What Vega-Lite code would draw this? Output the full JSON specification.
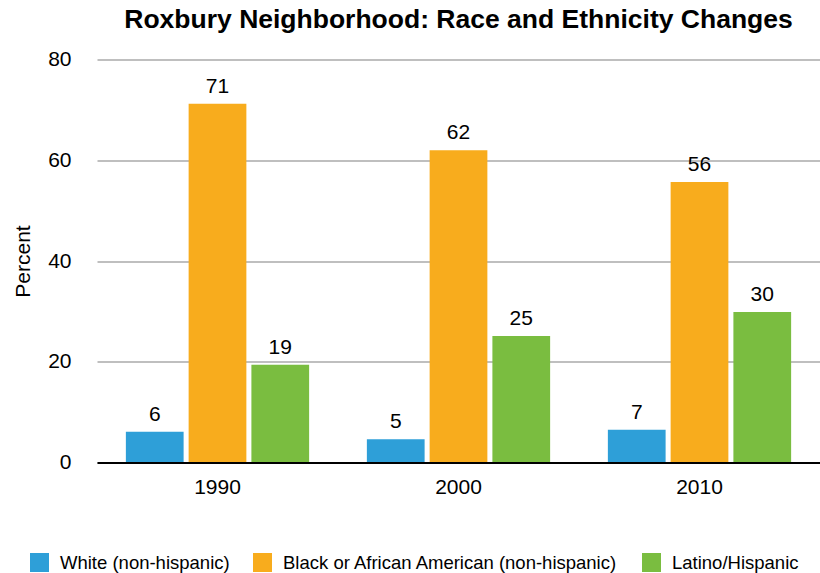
{
  "$schema": "https://vega.github.io/schema/vega-lite/v6.json",
  "width": 723,
  "height": 403,
  "autosize": {"type": "none"},
  "padding": {"left": 97, "top": 59.5, "right": 0, "bottom": 110},
  "background": "white",
  "title": {
    "text": "Roxbury Neighborhood: Race and Ethnicity Changes",
    "font": "Liberation Sans",
    "fontSize": 26.5,
    "fontWeight": "bold",
    "color": "#000000",
    "anchor": "middle",
    "offset": 15
  },
  "config": {
    "view": {"stroke": null},
    "font": "Liberation Sans"
  },
  "data": {
    "values": [
      {"year": "1990", "group": "White (non-hispanic)", "value": 6.1},
      {"year": "1990", "group": "Black or African American (non-hispanic)", "value": 71.2},
      {"year": "1990", "group": "Latino/Hispanic", "value": 19.4},
      {"year": "2000", "group": "White (non-hispanic)", "value": 4.6},
      {"year": "2000", "group": "Black or African American (non-hispanic)", "value": 62.0},
      {"year": "2000", "group": "Latino/Hispanic", "value": 25.1},
      {"year": "2010", "group": "White (non-hispanic)", "value": 6.5},
      {"year": "2010", "group": "Black or African American (non-hispanic)", "value": 55.7},
      {"year": "2010", "group": "Latino/Hispanic", "value": 29.9}
    ]
  },
  "encoding": {
    "x": {
      "field": "year",
      "type": "nominal",
      "scale": {"paddingInner": 0, "paddingOuter": 0},
      "axis": {
        "title": null,
        "labelAngle": 0,
        "labelFont": "Liberation Sans",
        "labelFontSize": 21,
        "labelColor": "#000000",
        "labelPadding": 14,
        "ticks": false,
        "domainColor": "#000000",
        "domainWidth": 2,
        "zindex": 1
      }
    },
    "xOffset": {
      "field": "group",
      "type": "nominal",
      "sort": ["White (non-hispanic)", "Black or African American (non-hispanic)", "Latino/Hispanic"],
      "scale": {"paddingInner": 0.08, "paddingOuter": 0.46}
    },
    "y": {
      "field": "value",
      "type": "quantitative",
      "scale": {"domain": [0, 80]},
      "axis": {
        "title": "Percent",
        "titleFont": "Liberation Sans",
        "titleFontSize": 21,
        "titleFontWeight": "normal",
        "titleColor": "#000000",
        "titlePadding": 14,
        "values": [0, 20, 40, 60, 80],
        "labelFont": "Liberation Sans",
        "labelFontSize": 21,
        "labelColor": "#000000",
        "labelPadding": 26,
        "ticks": false,
        "domain": false,
        "gridColor": "#aaaaaa",
        "gridWidth": 1.5
      }
    }
  },
  "layer": [
    {
      "mark": {"type": "bar"},
      "encoding": {
        "color": {
          "field": "group",
          "type": "nominal",
          "sort": ["White (non-hispanic)", "Black or African American (non-hispanic)", "Latino/Hispanic"],
          "scale": {
            "domain": ["White (non-hispanic)", "Black or African American (non-hispanic)", "Latino/Hispanic"],
            "range": ["#2E9FD8", "#F8AC1D", "#7ABD40"]
          },
          "legend": {
            "title": null,
            "orient": "none",
            "direction": "horizontal",
            "legendX": -67,
            "legendY": 493.5,
            "padding": 0,
            "symbolType": "square",
            "symbolSize": 361,
            "symbolStrokeWidth": 0,
            "labelFont": "Liberation Sans",
            "labelFontSize": 18.5,
            "labelColor": "#000000",
            "labelOffset": 11,
            "columnPadding": 23,
            "labelLimit": 500
          }
        }
      }
    },
    {
      "mark": {
        "type": "text",
        "baseline": "alphabetic",
        "dy": -11,
        "font": "Liberation Sans",
        "fontSize": 21,
        "color": "#000000"
      },
      "encoding": {
        "text": {"field": "value", "type": "quantitative", "format": ".0f"}
      }
    }
  ]
}
